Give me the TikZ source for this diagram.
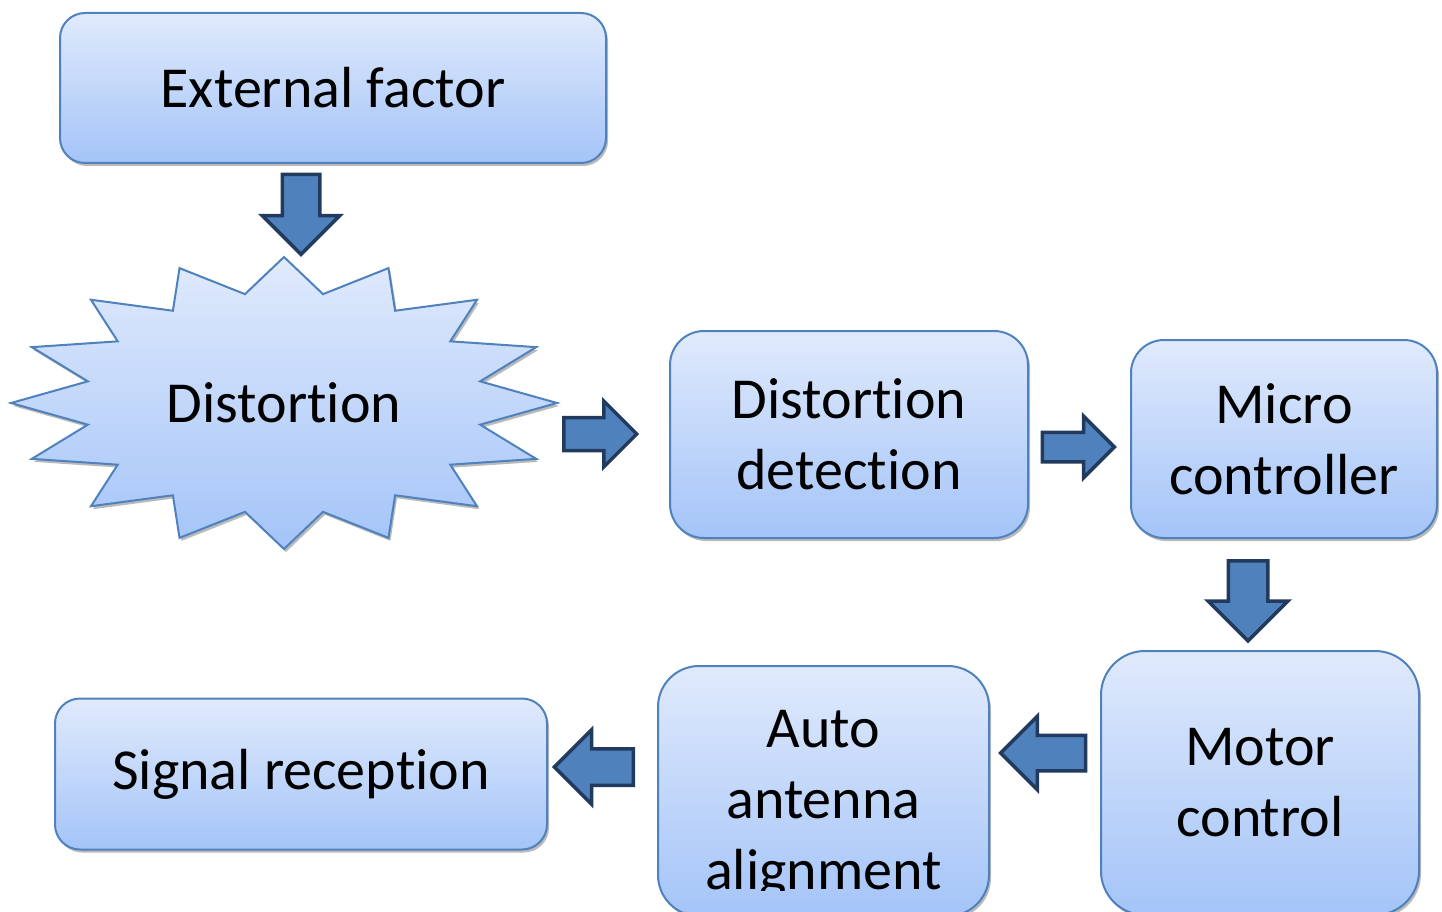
\documentclass[tikz,border=0pt]{standalone}
\usepackage{fontspec}
\setmainfont{Carlito}[Ligatures=NoCommon]
\usepackage{tikz}
\usetikzlibrary{shapes.arrows,shadows}

\definecolor{boxtop}{RGB}{224,234,252}
\definecolor{boxbot}{RGB}{164,196,248}
\definecolor{boxline}{RGB}{79,129,189}
\definecolor{arrfill}{RGB}{79,129,189}
\definecolor{arrline}{RGB}{33,58,94}

\begin{document}
\begin{tikzpicture}[x=1pt, y=-1pt, every node/.style={font=\fontsize{58}{71}\selectfont, align=center, inner sep=0pt}]
  \tikzset{procbox/.style={draw=boxline, line width=2pt, top color=boxtop, bottom color=boxbot, rounded corners=#1, drop shadow={shadow xshift=2pt, shadow yshift=-3pt, opacity=0.45, fill=black!60}}}
  \tikzset{burst/.style={draw=boxline, line width=2pt, top color=boxtop, bottom color=boxbot, drop shadow={shadow xshift=2pt, shadow yshift=-3pt, opacity=0.45, fill=black!60}}}
  \tikzset{fatarrow/.style 2 args={single arrow, draw=arrline, fill=arrfill, line width=3.5pt, text height=#1, text depth=#1, single arrow head extend=#2, single arrow head indent=0pt}}
  \useasboundingbox (0,0) rectangle (1442,912);

  % boxes
  \node[procbox=25pt, minimum width=546pt, minimum height=150pt] (ext) at (333,88) {External factor};
  \node[procbox=34pt, minimum width=358pt, minimum height=207pt] (det) at (849,434.5) {Distortion\\detection};
  \node[procbox=33pt, minimum width=306pt, minimum height=198pt] (mc) at (1284,439) {Micro\\controller};
  \node[procbox=44pt, minimum width=318pt, minimum height=264pt] (motor) at (1260,783) {Motor\\control};
  \node[procbox=41pt, minimum width=331pt, minimum height=250pt] (auto) at (823.5,791) {};
  \begin{scope}
    \clip (658,666) rectangle (989,890);
    \node (autotxt) at (823.5,805) {Auto\\antenna\\alignment};
  \end{scope}
  \node[procbox=25pt, minimum width=492pt, minimum height=151pt] (sig) at (301,774) {Signal reception};

  % star
  \begin{scope}[shift={(284,403)}]
    \path[burst] (90:273 and 146) \foreach \k in {0,...,15}{ -- ({78.75-22.5*\k}:200 and 111) -- ({67.5-22.5*\k}:273 and 146)} -- cycle;
  \end{scope}
  \node (dist) at (284,403) {Distortion};

  % block arrows
  \node[fatarrow={17pt}{20pt}, minimum height=80pt, rotate=-90] (arr1) at (301,205) {};
  \node[fatarrow={14.75pt}{16.5pt}, minimum height=73pt] (arr2) at (592,434) {};
  \node[fatarrow={13pt}{16pt}, minimum height=72pt] (arr3) at (1071,447) {};
  \node[fatarrow={18pt}{20pt}, minimum height=80pt, rotate=-90] (arr4) at (1248,591) {};
  \node[fatarrow={16pt}{19pt}, minimum height=85pt, rotate=180] (arr5) at (1052,753) {};
  \node[fatarrow={16.5pt}{19pt}, minimum height=79pt, rotate=180] (arr6) at (603,767) {};
\end{tikzpicture}
\end{document}
